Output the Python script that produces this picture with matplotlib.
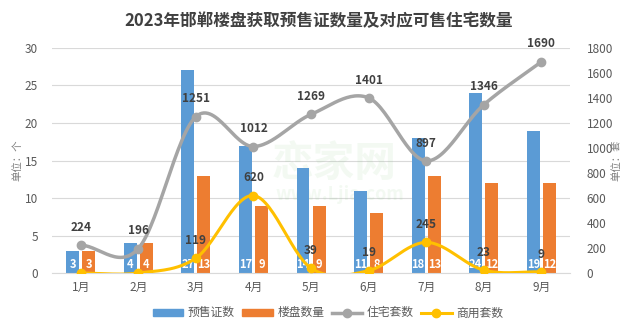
import numpy as np
import matplotlib
matplotlib.use("Agg")
import matplotlib.pyplot as plt
from matplotlib.lines import Line2D
from matplotlib.patches import Patch

plt.rcParams['font.family'] = ['Noto Sans CJK SC', 'DejaVu Sans']

months = ['1月', '2月', '3月', '4月', '5月', '6月', '7月', '8月', '9月']
presale = [3, 4, 27, 17, 14, 11, 18, 24, 19]
projects = [3, 4, 13, 9, 9, 8, 13, 12, 12]
homes = [224, 196, 1251, 1012, 1269, 1401, 897, 1346, 1690]
shops = [0, 0, 119, 620, 39, 19, 245, 23, 9]

c_blue = '#5B9BD5'
c_orange = '#ED7D31'
c_grey = '#A5A5A5'
c_yellow = '#FFC000'
c_text = '#404040'


def smooth(xs, ys, n=30, t=0.5):
    # cardinal spline through the points
    xs = np.asarray(xs, float)
    ys = np.asarray(ys, float)
    px = np.concatenate([[2 * xs[0] - xs[1]], xs, [2 * xs[-1] - xs[-2]]])
    py = np.concatenate([[2 * ys[0] - ys[1]], ys, [2 * ys[-1] - ys[-2]]])
    outx, outy = [], []
    s = np.linspace(0, 1, n)
    for i in range(1, len(px) - 2):
        m0x = t * (px[i + 1] - px[i - 1]); m1x = t * (px[i + 2] - px[i])
        m0y = t * (py[i + 1] - py[i - 1]); m1y = t * (py[i + 2] - py[i])
        h00 = 2 * s**3 - 3 * s**2 + 1
        h10 = s**3 - 2 * s**2 + s
        h01 = -2 * s**3 + 3 * s**2
        h11 = s**3 - s**2
        outx.extend(h00 * px[i] + h10 * m0x + h01 * px[i + 1] + h11 * m1x)
        outy.extend(h00 * py[i] + h10 * m0y + h01 * py[i + 1] + h11 * m1y)
    return outx, outy


fig = plt.figure(figsize=(6.37, 3.34), dpi=100)
ax = fig.add_axes([0.0816, 0.1826, 0.8134, 0.6737])
ax2 = ax.twinx()

x = np.arange(len(months))
w = 0.225
off = 0.14
b1 = ax.bar(x - off, presale, w, color=c_blue, zorder=2)
b2 = ax.bar(x + off, projects, w, color=c_orange, zorder=2)
for bars, vals in ((b1, presale), (b2, projects)):
    for r, v in zip(bars, vals):
        ax.text(r.get_x() + r.get_width() / 2, 1.2, str(v), ha='center', va='center',
                color='white', fontsize=8, fontweight='bold', zorder=3)

ax.set_ylim(0, 30)
ax.set_yticks(range(0, 31, 5))
ax.set_xlim(-0.5, len(months) - 0.5)
ax.set_xticks(x)
ax.set_xticklabels(months)
ax.grid(axis='y', color='#D9D9D9', linewidth=0.8, zorder=0)
ax.set_axisbelow(True)

ax2.set_ylim(0, 1800)
ax2.set_yticks(range(0, 1801, 200))

for a in (ax, ax2):
    for sp in a.spines.values():
        sp.set_visible(False)
    a.tick_params(length=0, labelsize=8.5, labelcolor='#595959')
ax.spines['bottom'].set_visible(True)
ax.spines['bottom'].set_color('#D9D9D9')
ax.tick_params(axis='x', pad=6, labelsize=8.5)
ax.tick_params(axis='y', pad=10)
ax2.tick_params(axis='y', pad=12)

# watermark
ax.text(4.4, 14.5, '恋家网', ha='center', va='center', fontsize=30, fontweight='bold',
        color='#7CC576', alpha=0.09, zorder=1)
ax.text(4.5, 10.5, 'www.Ljia.com', ha='center', va='center', fontsize=13, fontweight='bold',
        color='#7CC576', alpha=0.09, zorder=1)

sx, sy = smooth(x, homes)
ax2.plot(sx, sy, color=c_grey, linewidth=2.5, zorder=4)
ax2.plot(x, homes, 'o', color=c_grey, markersize=6, zorder=5)
sx, sy = smooth(x, shops)
ax2.plot(sx, sy, color=c_yellow, linewidth=2.2, zorder=4)
ax2.plot(x, shops, 'o', color=c_yellow, markersize=6, zorder=5)

for xi, v in zip(x, homes):
    ax2.text(xi, v + 90, str(v), ha='center', va='bottom', fontsize=8.5,
             fontweight='bold', color=c_text, zorder=6)
for xi, v in zip(x, shops):
    if v > 0:
        ax2.text(xi, v + 90, str(v), ha='center', va='bottom', fontsize=8.5,
                 fontweight='bold', color=c_text, zorder=6)

fig.text(0.028, 0.52, '单位：个', rotation=90, ha='center', va='center',
         fontsize=7.5, color='#7F7F7F')
fig.text(0.967, 0.52, '单位：套', rotation=90, ha='center', va='center',
         fontsize=7.5, color='#7F7F7F')

fig.suptitle('2023年邯郸楼盘获取预售证数量及对应可售住宅数量', x=0.5, y=0.965,
             fontsize=12, fontweight='bold', color=c_text)

handles = [Patch(color=c_blue), Patch(color=c_orange),
           Line2D([], [], color=c_grey, linewidth=2.5, marker='o', markersize=6),
           Line2D([], [], color=c_yellow, linewidth=2.2, marker='o', markersize=6)]
fig.legend(handles, ['预售证数', '楼盘数量', '住宅套数', '商用套数'], loc='center',
           bbox_to_anchor=(0.515, 0.063), ncol=4, frameon=False, fontsize=8.5,
           handlelength=2.6, handleheight=0.5, columnspacing=0.6, handletextpad=0.4,
           labelcolor='#595959')

fig.savefig('out.png', dpi=100)
